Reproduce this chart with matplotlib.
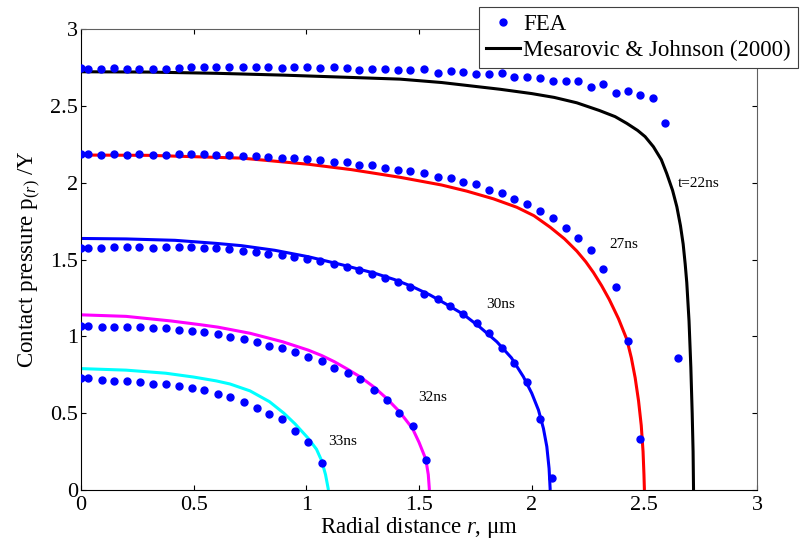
import numpy as np
import matplotlib
matplotlib.use('Agg')
import matplotlib.pyplot as plt
from matplotlib.ticker import FormatStrFormatter

plt.rcParams['font.family'] = ['Liberation Serif', 'DejaVu Serif']
plt.rcParams['mathtext.fontset'] = 'custom'
plt.rcParams['mathtext.rm'] = 'Liberation Serif'
plt.rcParams['mathtext.it'] = 'Liberation Serif:italic'

# FEA dots, one set per time step
fea_x_22 = [0, 0.03, 0.089, 0.146, 0.203, 0.259, 0.318, 0.376, 0.433, 0.488,
            0.545, 0.601, 0.657, 0.719, 0.775, 0.830, 0.891, 0.947, 1.005,
            1.062, 1.121, 1.179, 1.234, 1.291, 1.350, 1.406, 1.462, 1.522,
            1.583, 1.641, 1.697, 1.753, 1.811, 1.867, 1.923, 1.980, 2.037,
            2.094, 2.150, 2.207, 2.264, 2.315, 2.375, 2.429, 2.481, 2.540,
            2.592, 2.647]
fea_y_22 = [2.748, 2.743, 2.741, 2.748, 2.737, 2.743, 2.741, 2.741, 2.746,
            2.750, 2.750, 2.750, 2.750, 2.750, 2.754, 2.754, 2.746, 2.750,
            2.750, 2.746, 2.750, 2.746, 2.735, 2.743, 2.739, 2.735, 2.735,
            2.737, 2.715, 2.724, 2.722, 2.705, 2.709, 2.711, 2.685, 2.685,
            2.683, 2.659, 2.659, 2.661, 2.624, 2.642, 2.581, 2.598, 2.570,
            2.548, 2.386, 0.857]

fea_x_27 = [0, 0.03, 0.089, 0.146, 0.203, 0.259, 0.318, 0.376, 0.433, 0.488,
            0.545, 0.601, 0.657, 0.719, 0.775, 0.830, 0.891, 0.947, 1.005,
            1.062, 1.121, 1.179, 1.234, 1.291, 1.350, 1.406, 1.462, 1.522,
            1.583, 1.641, 1.697, 1.753, 1.811, 1.867, 1.923, 1.980, 2.037,
            2.094, 2.150, 2.207, 2.264, 2.315, 2.375, 2.429, 2.481]
fea_y_27 = [2.186, 2.186, 2.180, 2.186, 2.180, 2.186, 2.180, 2.180, 2.186,
            2.186, 2.186, 2.180, 2.180, 2.173, 2.173, 2.169, 2.160, 2.160,
            2.151, 2.145, 2.136, 2.136, 2.115, 2.115, 2.097, 2.082, 2.078,
            2.060, 2.039, 2.028, 2.002, 1.989, 1.952, 1.935, 1.891, 1.859,
            1.815, 1.772, 1.702, 1.642, 1.561, 1.436, 1.323, 0.967, 0.332]

fea_x_30 = [0, 0.03, 0.089, 0.146, 0.203, 0.259, 0.318, 0.376, 0.433, 0.488,
            0.545, 0.601, 0.657, 0.719, 0.775, 0.830, 0.891, 0.947, 1.005,
            1.062, 1.121, 1.179, 1.234, 1.291, 1.350, 1.406, 1.462, 1.524,
            1.582, 1.639, 1.697, 1.755, 1.811, 1.867, 1.923, 1.978, 2.037,
            2.092]
fea_y_30 = [1.577, 1.577, 1.577, 1.581, 1.581, 1.581, 1.577, 1.581, 1.581,
            1.581, 1.577, 1.572, 1.566, 1.557, 1.551, 1.538, 1.529, 1.514,
            1.501, 1.490, 1.468, 1.453, 1.429, 1.407, 1.381, 1.353, 1.319,
            1.275, 1.245, 1.197, 1.143, 1.089, 1.019, 0.922, 0.828, 0.703,
            0.464, 0.076]

fea_x_32 = [0, 0.033, 0.092, 0.148, 0.206, 0.262, 0.318, 0.376, 0.435, 0.491,
            0.547, 0.607, 0.661, 0.722, 0.780, 0.836, 0.894, 0.950, 1.009,
            1.068, 1.124, 1.184, 1.240, 1.300, 1.357, 1.413, 1.471, 1.530]
fea_y_32 = [1.067, 1.067, 1.063, 1.063, 1.063, 1.058, 1.052, 1.052, 1.041,
            1.035, 1.030, 1.013, 0.997, 0.982, 0.961, 0.939, 0.926, 0.896,
            0.868, 0.841, 0.792, 0.759, 0.720, 0.649, 0.586, 0.503, 0.416,
            0.193]

fea_x_33 = [0, 0.033, 0.092, 0.148, 0.206, 0.262, 0.318, 0.376, 0.435, 0.491,
            0.547, 0.607, 0.661, 0.722, 0.780, 0.836, 0.894, 0.950, 1.009,
            1.068]
fea_y_33 = [0.727, 0.727, 0.716, 0.711, 0.711, 0.705, 0.690, 0.690, 0.675,
            0.662, 0.653, 0.625, 0.605, 0.575, 0.536, 0.494, 0.460, 0.386,
            0.314, 0.178]

mj_x_22 = [0, 0.3, 0.6, 0.9, 1.2, 1.416, 1.6, 1.86, 2.0, 2.1, 2.2, 2.3,
           2.37, 2.422, 2.47, 2.503, 2.54, 2.575, 2.599, 2.625, 2.644, 2.66,
           2.672, 2.681, 2.688, 2.698, 2.706, 2.712, 2.716, 2.718]
mj_y_22 = [2.722, 2.720, 2.712, 2.700, 2.685, 2.674, 2.652, 2.608, 2.58,
           2.555, 2.52, 2.47, 2.43, 2.386, 2.34, 2.30, 2.234, 2.15, 2.06,
           1.95, 1.843, 1.72, 1.6, 1.47, 1.35, 1.1, 0.8, 0.5, 0.25, 0]

mj_x_27 = [0, 0.3, 0.713, 1.009, 1.2, 1.416, 1.6, 1.712, 1.83, 1.934, 2.01,
           2.082, 2.145, 2.2, 2.24, 2.274, 2.31, 2.344, 2.385, 2.422, 2.442,
           2.459, 2.474, 2.486, 2.494, 2.498, 2.5]
mj_y_27 = [2.18, 2.178, 2.16, 2.12, 2.085, 2.035, 1.985, 1.945, 1.895, 1.84,
           1.785, 1.71, 1.635, 1.555, 1.485, 1.415, 1.33, 1.24, 1.115, 0.98,
           0.86, 0.73, 0.58, 0.42, 0.25, 0.1, 0]

mj_x_30 = [0, 0.2, 0.417, 0.6, 0.713, 0.86, 1.009, 1.16, 1.305, 1.39, 1.468,
           1.549, 1.62, 1.697, 1.77, 1.845, 1.91, 1.963, 2.0, 2.030, 2.052,
           2.067, 2.077, 2.082]
mj_y_30 = [1.637, 1.634, 1.625, 1.605, 1.590, 1.56, 1.518, 1.465, 1.41,
           1.37, 1.325, 1.269, 1.21, 1.143, 1.06, 0.965, 0.86, 0.737, 0.63,
           0.520, 0.40, 0.282, 0.14, 0]

mj_x_32 = [0, 0.2, 0.4, 0.528, 0.607, 0.75, 0.894, 1.009, 1.068, 1.124,
           1.184, 1.24, 1.30, 1.357, 1.413, 1.45, 1.471, 1.50, 1.53, 1.541,
           1.546]
mj_y_32 = [1.14, 1.13, 1.1, 1.076, 1.06, 1.02, 0.965, 0.91, 0.875, 0.835,
           0.785, 0.735, 0.67, 0.595, 0.51, 0.44, 0.40, 0.31, 0.2, 0.1, 0]

mj_x_33 = [0, 0.2, 0.376, 0.5, 0.6, 0.661, 0.75, 0.836, 0.90, 0.950, 1.009,
           1.045, 1.068, 1.085, 1.098]
mj_y_33 = [0.79, 0.78, 0.76, 0.735, 0.71, 0.69, 0.645, 0.575, 0.50, 0.43,
           0.335, 0.265, 0.19, 0.1, 0]

labels = ['t=22ns', '27ns', '30ns', '32ns', '33ns']
label_x = [2.648, 2.345, 1.798, 1.497, 1.098]
label_y = [1.995, 1.599, 1.204, 0.601, 0.314]

fig = plt.figure(figsize=(8.02, 5.41), dpi=100)
ax = fig.add_axes([0.101, 0.0943, 0.843, 0.852])

curves = [(mj_x_22, mj_y_22, 'black'), (mj_x_27, mj_y_27, 'red'),
          (mj_x_30, mj_y_30, 'blue'), (mj_x_32, mj_y_32, 'magenta'),
          (mj_x_33, mj_y_33, 'cyan')]
for cx, cy, col in curves:
    ax.plot(cx, cy, color=col, lw=2.2, solid_capstyle='butt',
            solid_joinstyle='round')

for fx, fy in [(fea_x_22, fea_y_22), (fea_x_27, fea_y_27),
               (fea_x_30, fea_y_30), (fea_x_32, fea_y_32),
               (fea_x_33, fea_y_33)]:
    ax.plot(fx, fy, 'o', color='blue', ms=5, mec='blue', zorder=3)

for txt, tx, ty in zip(labels, label_x, label_y):
    ax.text(tx, ty, txt, fontsize=11, ha='left', va='center')

ax.set_xlim(0, 3)
ax.set_ylim(0, 3)
ticks = np.arange(0, 3.01, 0.5)
ax.set_xticks(ticks)
ax.set_yticks(ticks)
ax.xaxis.set_major_formatter(FormatStrFormatter('%g'))
ax.yaxis.set_major_formatter(FormatStrFormatter('%g'))
ax.tick_params(direction='in', length=3.6, width=0.8, labelsize=16,
               top=True, right=True)
ax.tick_params(axis='x', pad=4)
ax.tick_params(axis='y', pad=2)
for side in ['top', 'right']:
    ax.spines[side].set_color('#606060')
for side in ['left', 'bottom']:
    ax.spines[side].set_color('black')

ax.set_xlabel(r'Radial distance $r$, μm', fontsize=16.5, labelpad=0)
ax.set_ylabel(r'Contact pressure p$_{(r)}$ /Y', fontsize=16.5, labelpad=5)

h_fea, = ax.plot([], [], 'o', color='blue', ms=5)
h_mj, = ax.plot([], [], '-', color='black', lw=2.2)
leg = fig.legend([h_fea, h_mj], ['FEA', 'Mesarovic & Johnson (2000)'],
                 loc='upper right', bbox_to_anchor=(0.995, 0.987),
                 fontsize=16.5, numpoints=1, handlelength=1.5,
                 handletextpad=0.15, borderpad=0.3, labelspacing=0.2,
                 fancybox=False, framealpha=1, borderaxespad=0)
leg.get_frame().set_edgecolor('#404040')
leg.get_frame().set_linewidth(0.8)

fig.savefig('out.png', dpi=100)
